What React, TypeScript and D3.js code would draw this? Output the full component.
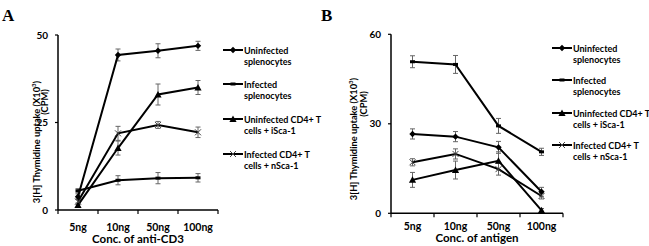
import React from "react";
import * as d3 from "d3";

const categories = ["5ng", "10ng", "50ng", "100ng"];
const legendLines = [["Uninfected", "splenocytes"], ["Infected", "splenocytes"], ["Uninfected CD4+ T", "cells + iSca-1"], ["Infected CD4+ T", "cells + nSca-1"]];
const markers = ["diamond", "dash", "triangle", "x"];

// Panel A values (x10^3 CPM)
const aUninfSpl = [3.8, 44.3, 45.5, 46.9];
const aUninfSplErr = [0.8, 1.7, 2.0, 1.3];
const aInfSpl = [5.5, 8.5, 9.1, 9.2];
const aInfSplErr = [0.6, 1.3, 1.6, 1.2];
const aUninfCD4 = [1.4, 17.7, 33.0, 35.0];
const aUninfCD4Err = [0.6, 2.0, 3.0, 2.0];
const aInfCD4 = [2.4, 21.9, 24.3, 22.2];
const aInfCD4Err = [0.8, 2.0, 1.0, 1.5];

// Panel B values
const bUninfSpl = [26.6, 25.7, 22.1, 7.2];
const bUninfSplErr = [1.7, 1.7, 2.0, 1.5];
const bInfSpl = [50.8, 49.9, 29.3, 20.6];
const bInfSplErr = [2.0, 3.0, 2.5, 1.2];
const bUninfCD4 = [11.2, 14.5, 17.6, 1.0];
const bUninfCD4Err = [2.5, 3.0, 3.0, 0.6];
const bInfCD4 = [17.1, 19.9, 14.8, 5.8];
const bInfCD4Err = [1.2, 1.7, 2.0, 1.0];

const aTicks = [0, 25, 50];
const bTicks = [0, 30, 60];

const FONT = "Lato, 'Open Sans', sans-serif";

function Marker({ type, x, y }: { type: string; x: number; y: number }) {
  if (type === "diamond") {
    const s = 3.2;
    return <path d={`M${x},${y - s}L${x + s},${y}L${x},${y + s}L${x - s},${y}Z`} fill="#000" />;
  }
  if (type === "dash") {
    return <rect x={x - 2.5} y={y - 1.5} width={5} height={3} fill="#000" />;
  }
  if (type === "triangle") {
    const s = 3.6;
    return <path d={`M${x},${y - s}L${x + s},${y + s * 0.8}L${x - s},${y + s * 0.8}Z`} fill="#000" />;
  }
  const s = 3;
  return (
    <g stroke="#444" strokeWidth={1} fill="none">
      <path d={`M${x - s},${y - s}L${x + s},${y + s}M${x - s},${y + s}L${x + s},${y - s}`} />
    </g>
  );
}

type PanelProps = {
  letter: string;
  letterX: number;
  xRange: [number, number];
  yRange: [number, number];
  yMax: number;
  ticks: number[];
  series: number[][];
  errors: number[][];
  xTitle: string;
  xTitleY: number;
  tickLabelY: number;
  yLabel1: [number, number];
  yLabel2: [number, number];
  legendX: number;
  legendRows: number[];
};

function Panel(p: PanelProps) {
  const x = d3.scaleBand<string>().domain(categories).range(p.xRange);
  const y = d3.scaleLinear().domain([0, p.yMax]).range(p.yRange);
  const cx = (c: string) => (x(c) as number) + x.bandwidth() / 2;
  const line = d3.line<number>().x((_, i) => cx(categories[i])).y((d) => y(d));
  const axX = p.xRange[0];
  const y0 = y(0);
  return (
    <g fontFamily={FONT} fontWeight={700}>
      <text x={p.letterX} y={21} fontFamily="'Liberation Serif', serif" fontWeight={700} fontSize={17}>{p.letter}</text>
      {p.series.map((s, si) =>
        s.map((v, i) => {
          const e = p.errors[si][i];
          const px = cx(categories[i]);
          const lo = y(Math.max(0, v - e));
          const hi = y(v + e);
          return (
            <g key={`e${si}-${i}`} stroke="#666" strokeWidth={1}>
              <line x1={px} x2={px} y1={hi} y2={lo} />
              <line x1={px - 2.5} x2={px + 2.5} y1={hi} y2={hi} />
              <line x1={px - 2.5} x2={px + 2.5} y1={lo} y2={lo} />
            </g>
          );
        })
      )}
      {p.series.map((s, si) => (
        <path key={`l${si}`} d={line(s) as string} fill="none" stroke="#000" strokeWidth={2} />
      ))}
      {p.series.map((s, si) =>
        s.map((v, i) => <Marker key={`m${si}-${i}`} type={markers[si]} x={cx(categories[i])} y={y(v)} />)
      )}
      <line x1={axX} x2={axX} y1={y(p.yMax)} y2={y0} stroke="#000" strokeWidth={1.5} />
      <line x1={axX} x2={p.xRange[1]} y1={y0} y2={y0} stroke="#000" strokeWidth={1.5} />
      {p.ticks.map((t) => (
        <g key={`yt${t}`}>
          <line x1={axX - 3} x2={axX} y1={y(t)} y2={y(t)} stroke="#000" strokeWidth={1.2} />
          <text x={axX - 10} y={y(t) + 3.5} textAnchor="end" fontSize={10}>{t}</text>
        </g>
      ))}
      {[...categories.map((c) => x(c) as number), p.xRange[1]].map((bx, i) => (
        <line key={`xt${i}`} x1={bx} x2={bx} y1={y0} y2={y0 + 4} stroke="#000" strokeWidth={1.2} />
      ))}
      {categories.map((c) => (
        <text key={`xl${c}`} x={cx(c)} y={p.tickLabelY} textAnchor="middle" fontSize={10.5}>{c}</text>
      ))}
      <text x={(p.xRange[0] + p.xRange[1]) / 2} y={p.xTitleY} textAnchor="middle" fontSize={11.5}>{p.xTitle}</text>
      <text transform={`translate(${p.yLabel1[0]},${p.yLabel1[1]}) rotate(-90)`} textAnchor="middle" fontSize={9.3}>
        <tspan>3[H] Thymidine uptake (X10</tspan>
        <tspan fontSize={6} dy={-4}>3</tspan>
        <tspan dy={4}>)</tspan>
      </text>
      <text transform={`translate(${p.yLabel2[0]},${p.yLabel2[1]}) rotate(-90)`} textAnchor="middle" fontSize={9.3}>(CPM)</text>
      {legendLines.map((ls, i) => {
        const ry = p.legendRows[i];
        return (
          <g key={`lg${i}`}>
            <line x1={p.legendX} x2={p.legendX + 20} y1={ry} y2={ry} stroke="#000" strokeWidth={2} />
            <Marker type={markers[i]} x={p.legendX + 10} y={ry} />
            <text x={p.legendX + 21} y={ry + 3.5} fontSize={9}>{ls[0]}</text>
            <text x={p.legendX + 21} y={ry + 14.5} fontSize={9}>{ls[1]}</text>
          </g>
        );
      })}
    </g>
  );
}

export default function App() {
  return (
    <svg width={649} height={246} style={{ position: "absolute", left: 0, top: 0, background: "#fff" }}>
      <Panel
        letter="A"
        letterX={2}
        xRange={[58, 218]}
        yRange={[210, 35]}
        yMax={50}
        ticks={aTicks}
        series={[aUninfSpl, aInfSpl, aUninfCD4, aInfCD4]}
        errors={[aUninfSplErr, aInfSplErr, aUninfCD4Err, aInfCD4Err]}
        xTitle="Conc. of anti-CD3"
        xTitleY={243}
        tickLabelY={231}
        yLabel1={[40, 142]}
        yLabel2={[48, 102]}
        legendX={223}
        legendRows={[50, 84, 119, 154]}
      />
      <Panel
        letter="B"
        letterX={321}
        xRange={[391, 563]}
        yRange={[213.3, 34.3]}
        yMax={60}
        ticks={bTicks}
        series={[bUninfSpl, bInfSpl, bUninfCD4, bInfCD4]}
        errors={[bUninfSplErr, bInfSplErr, bUninfCD4Err, bInfCD4Err]}
        xTitle="Conc. of antigen"
        xTitleY={242}
        tickLabelY={230}
        yLabel1={[357, 139]}
        yLabel2={[367, 104]}
        legendX={552}
        legendRows={[48, 80, 113, 145]}
      />
    </svg>
  );
}
